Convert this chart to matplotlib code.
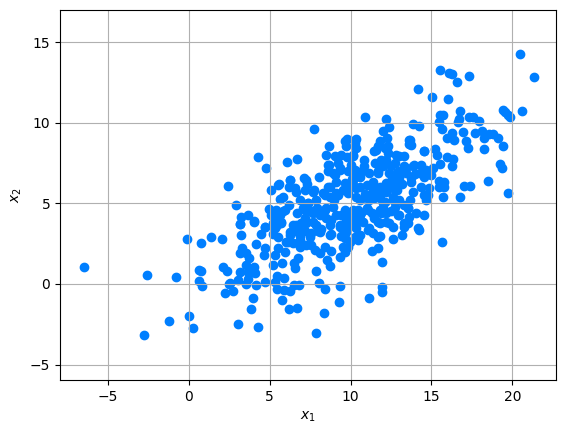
import numpy as np
import matplotlib
matplotlib.use("Agg")
import matplotlib.pyplot as plt

# values, grouped by region
x1_left = [-6.5, -2.57, -0.78, -0.1, 0.76, 1.38, 2.06, 0.64, 0.78, 0.64, 0.82, 2.12, 2.39, 2.49, 2.24, 0.02, -1.21, 0.29, -2.76, 2.45]
x2_left = [1.04, 0.54, 0.42, 2.78, 2.53, 2.9, 2.78, 0.85, 0.78, 0.19, -0.14, 1.08, 0.81, 0.02, -0.58, -1.99, -2.32, -2.75, -3.19, 6.07]

x1_low = [3.19, 4.03, 3.23, 4.18, 4.71, 4.46, 5.2, 5.41, 5.7, 3.29, 3.19, 3.56, 3.7, 4.69, 4.67, 3.19, 3.56, 4.03, 4.07, 3.66,
          3.04, 3.66, 2.57, 3.52, 4.18, 4.73, 2.74, 3.97, 3.85, 3.04, 4.28, 5.51, 5.97, 5.31, 5.2, 5.76, 6.75, 6.48, 6.56, 5.45,
          5.86, 5.31, 5.45, 5.86, 6.28, 6.48, 6.81, 5.76, 6.19, 6.71, 7.86, 8.04, 8.41, 9.34, 9.28, 8.35, 7.86, 11.15, 11.93, 11.93,
          11.93, 11.31, 11.69, 8.7, 8.54, 8.09, 7.78, 8.77, 9.32, 9.63, 9.83, 6.85, 6.13, 6.23, 6.85, 7.26]
x2_low = [3.73, 3.87, 3.02, 2.46, 3.56, 3.1, 3.1, 3.6, 3.8, 2.24, 1.9, 1.9, 1.6, 2.24, 1.78, 0.76, 1.18, 1.04, 0.7, 0.76,
          0.25, 0.29, 0.04, 0.0, -0.08, 0.14, -0.45, -0.89, -1.57, -2.5, -2.69, 2.22, 2.0, 1.8, 1.18, 1.28, 1.6, 1.28, 1.01, 0.5,
          0.35, 0.14, -0.33, -0.37, -0.45, -0.06, -0.06, -0.99, -1.57, -1.51, 0.81, 0.04, -0.33, -0.14, -1.14, -1.82, -3.06, -0.89, -0.2, -0.5,
          1.35, 2.03, 2.22, 1.12, 1.49, 1.9, 2.11, 2.07, 1.7, 2.0, 2.32, 2.32, 2.63, 3.04, 2.73, 2.42]

x1_mid = [7.74, 4.28, 4.75, 6.07, 6.69, 8.04, 8.66, 8.5, 9.63, 9.77, 10.25, 8.66, 2.9, 5.57, 5.1, 6.28, 6.19, 6.65, 7.1,
          7.3, 7.76, 5.82, 5.62, 3.23, 3.66, 3.19, 4.01, 4.96, 5.1, 5.93, 5.62, 5.2, 5.72, 4.69, 6.44, 6.96, 6.85, 7.36, 7.88,
          8.29, 8.6, 9.01, 9.32, 8.7, 9.12, 9.55, 9.83, 7.16, 7.67, 7.16, 7.67, 8.4, 8.9, 8.5, 9.12, 9.63, 9.73, 10.25, 8.7,
          9.32, 6.2, 6.7, 7.4, 7.9, 8.2, 8.8, 9.4, 9.9, 6.4, 6.9, 7.5, 8.0, 8.6, 9.2, 9.8, 10.1, 5.4, 7.2, 9.0]
x2_mid = [9.61, 7.87, 7.18, 7.56, 7.75, 6.63, 8.57, 8.01, 8.84, 8.99, 8.94, 7.39, 4.91, 6.19, 5.84, 6.46, 6.0, 5.73, 6.57,
          6.21, 5.84, 5.42, 5.26, 4.18, 4.29, 3.73, 3.91, 4.64, 4.29, 4.6, 4.29, 3.77, 3.87, 3.56, 3.66, 3.77, 5.22, 5.01, 5.22,
          5.63, 6.04, 6.77, 7.08, 5.42, 5.63, 5.84, 6.15, 4.6, 4.39, 4.08, 3.87, 4.6, 4.8, 4.08, 4.29, 4.6, 3.98, 4.18, 3.66,
          3.56, 4.9, 4.4, 5.0, 4.7, 3.4, 3.1, 3.0, 3.6, 3.2, 3.0, 2.9, 3.3, 7.0, 7.5, 7.9, 6.5, 4.6, 3.3, 5.2]

x1_dense = [10.88, 12.2, 12.35, 12.0, 12.24, 13.85, 14.26, 10.31, 13.64, 13.75, 14.57, 15.25, 15.33, 15.53, 15.49, 15.8, 15.8, 15.49, 14.67, 11.69,
            11.48, 12.1, 10.86, 10.86, 10.14, 10.04, 12.8, 13.33, 12.2, 12.72, 13.33, 13.85, 14.36, 14.67, 15.08, 14.98, 14.57, 13.75, 14.36, 13.85,
            14.88, 14.77, 13.44, 13.02, 12.4, 12.0, 11.69, 11.17, 10.56, 10.14, 11.38, 11.0, 10.35, 11.79, 11.38, 12.2, 12.62, 13.02, 11.17, 11.79,
            12.1, 10.56, 10.45, 11.0, 11.79, 12.2, 12.72, 13.54, 13.02, 14.05, 14.57, 13.64, 10.25, 10.76, 11.69, 12.2, 12.62, 14.16, 11.17, 11.79,
            12.62, 13.17, 14.22, 15.64, 13.54, 13.33, 12.4, 13.58, 12.93, 11.89, 11.07, 10.66, 11.07, 11.38, 11.69, 10.56, 10.25, 9.73, 9.94, 9.53,
            11.5, 12.5, 13.2, 10.7, 12.9, 13.7, 11.9, 12.3, 10.9, 12.0, 13.0, 14.0, 11.3, 12.5, 14.3, 12.9, 11.6, 10.6, 13.3, 10.3]
x2_dense = [10.35, 10.23, 9.77, 9.52, 9.05, 9.94, 9.81, 8.99, 8.94, 8.63, 8.28, 8.37, 8.01, 7.45, 6.4, 6.35, 6.0, 6.0, 5.22, 8.53,
            8.22, 8.43, 7.7, 7.29, 8.01, 7.39, 8.01, 7.91, 7.7, 7.5, 7.29, 7.29, 7.39, 7.08, 7.19, 6.77, 6.66, 6.35, 6.04, 5.73,
            5.94, 5.53, 6.88, 6.57, 6.88, 7.29, 6.88, 6.88, 6.66, 6.46, 6.35, 6.15, 5.94, 6.04, 5.73, 5.73, 5.42, 5.22, 5.22, 5.32,
            5.11, 5.22, 4.6, 4.7, 4.6, 4.39, 4.8, 4.7, 4.29, 4.39, 4.29, 4.18, 3.98, 3.87, 3.87, 3.87, 3.56, 3.46, 3.46, 3.0,
            2.78, 3.04, 3.35, 2.59, 3.77, 3.56, 3.77, 4.7, 4.29, 4.39, 4.6, 4.39, 3.35, 3.15, 2.94, 3.04, 2.84, 3.25, 2.63, 2.32,
            7.5, 6.4, 6.2, 7.0, 5.8, 5.2, 7.7, 8.1, 5.6, 5.0, 7.0, 6.8, 4.4, 6.0, 6.9, 6.9, 5.9, 4.0, 4.9, 6.9]

x1_right = [15.52, 16.11, 16.28, 16.56, 17.3, 14.16, 15.02, 16.0, 20.45, 21.32, 20.58, 19.4, 19.57, 19.72, 19.86, 16.75, 15.52, 15.7, 15.45, 16.62,
            17.3, 17.6, 17.92, 15.64, 16.94, 17.72, 18.13, 18.27, 18.58, 18.83, 19.1, 15.97, 16.28, 16.42, 17.14, 17.24, 18.23, 19.43, 19.26, 19.34,
            18.48, 19.75, 17.04, 17.37, 16.75, 15.7, 15.95, 16.31, 16.26, 14.53, 13.7, 13.6, 16.73, 11.8]
x2_right = [13.27, 13.09, 13.02, 12.53, 12.9, 12.09, 11.6, 11.47, 14.27, 12.84, 10.73, 10.79, 10.64, 10.48, 10.33, 10.73, 10.5, 10.5, 10.08, 10.02,
            10.39, 10.39, 10.13, 9.61, 9.42, 9.36, 9.52, 9.05, 9.3, 9.3, 9.05, 9.05, 9.36, 8.94, 8.88, 8.43, 8.37, 8.55, 7.43, 7.19,
            6.38, 5.63, 6.07, 6.07, 5.39, 5.39, 7.87, 7.76, 7.35, 8.26, 8.94, 8.7, 10.23, 8.9]

# second pass over the crowded middle
x1_fill = [9.01, 9.43, 9.73, 10.25, 10.14, 9.32, 8.91, 9.83, 10.25, 8.6, 9.12, 9.63, 8.7, 8.4, 9.22, 9.83, 10.25, 7.27, 6.23, 5.51,
           6.54, 7.67, 7.16, 7.06, 7.57, 8.09, 8.5, 8.8, 9.43, 9.94, 9.32, 10.25, 7.88, 7.27, 6.65, 6.23, 6.85, 7.57, 8.09, 8.7,
           9.63, 10.25, 6.44, 6.03, 7.57, 8.4, 5.41, 5.82, 5.31, 5.62, 5.51, 10.35, 11.58, 13.02, 12.5, 12.0, 13.44, 13.95, 10.25, 11.69,
           12.62, 12.2, 13.02, 13.75, 10.56, 11.38, 11.79, 12.62, 14.57, 10.35, 11.48, 12.62, 12.0, 12.5, 10.14, 10.35, 11.48, 11.79, 13.33, 10.45,
           12.3]
x2_fill = [7.91, 8.01, 8.53, 8.74, 7.91, 7.19, 6.88, 6.98, 7.08, 7.39, 6.35, 6.25, 6.04, 5.53, 5.53, 5.63, 6.04, 6.46, 6.46, 6.15,
           5.94, 5.73, 5.84, 4.7, 4.5, 4.29, 4.7, 3.98, 4.29, 4.29, 3.66, 3.66, 3.66, 3.77, 3.66, 3.25, 3.25, 3.15, 3.25, 3.04,
           2.84, 2.94, 2.53, 2.63, 2.42, 2.32, 4.29, 4.5, 3.46, 3.77, 2.94, 8.43, 8.32, 7.91, 7.29, 7.5, 7.19, 7.39, 6.66, 6.98,
           6.66, 6.25, 6.35, 6.57, 6.04, 5.84, 5.63, 5.94, 5.53, 5.42, 5.32, 5.22, 4.7, 4.5, 4.6, 3.46, 4.08, 3.77, 3.77, 2.73,
           8.53]

x1 = np.array(x1_left + x1_low + x1_mid + x1_dense + x1_right + x1_fill)
x2 = np.array(x2_left + x2_low + x2_mid + x2_dense + x2_right + x2_fill)

fig = plt.figure(figsize=(5.66, 4.33), dpi=100)
ax = fig.add_axes([60 / 566, 53 / 433, 496 / 566, 370 / 433])
ax.scatter(x1, x2, color="#007fff")
ax.set_xlim(-7.96, 22.7)
ax.set_ylim(-5.96, 17.0)
ax.set_xticks([-5, 0, 5, 10, 15, 20])
ax.set_yticks([-5, 0, 5, 10, 15])
ax.set_xlabel("$x_1$")
ax.set_ylabel("$x_2$")
ax.grid(True)
fig.savefig("out.png", dpi=100)
